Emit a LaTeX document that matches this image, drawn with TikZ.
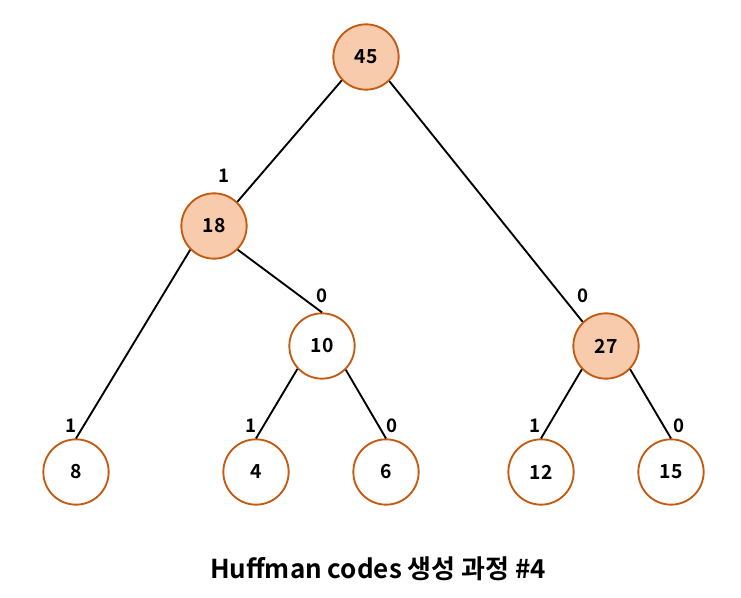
\documentclass[tikz,border=0pt]{standalone}
\usepackage{fontspec}
\setmainfont{Noto Sans CJK KR}[BoldFont={* Bold}]
\newfontfamily\krfont{Noto Sans CJK KR Bold}
\definecolor{nodefill}{HTML}{F8CBAD}
\definecolor{nodeline}{HTML}{C55A11}
\begin{document}
\begin{tikzpicture}[x=0.75pt,y=-0.75pt,
  tn/.style={circle,draw=nodeline,line width=1.4pt,fill=white,minimum size=49pt,inner sep=0pt,font=\krfont\fontsize{14.5}{16}\selectfont},
  hn/.style={tn,fill=nodefill},
  edge/.style={line width=1.4pt,black},
  bit/.style={font=\krfont\fontsize{14}{16}\selectfont,inner sep=0pt}]
\useasboundingbox (0,0) rectangle (741,598);
\node[hn] (n45) at (366,57) {45};
\node[hn] (n18) at (214,226) {18};
\node[tn] (n10) at (322,346) {10};
\node[hn] (n27) at (606,346) {27};
\node[tn] (n8) at (76,472) {8};
\node[tn] (n4) at (256,472) {4};
\node[tn] (n6) at (386,472) {6};
\node[tn] (n12) at (541,472) {12};
\node[tn] (n15) at (671,472) {15};
\draw[edge] (n45.-136) -- (n18.46);
\draw[edge] (n45.-46) -- (n27.134);
\draw[edge] (n18.-135) -- (n8.north);
\draw[edge] (n18.-45) -- (n10.north);
\draw[edge] (n10.-137) -- (n4.north);
\draw[edge] (n10.-45) -- (n6.north);
\draw[edge] (n27.-136) -- (n12.north);
\draw[edge] (n27.-44) -- (n15.north);
\node[bit] (b1) at (224,176) {1};
\node[bit] (b2) at (322,296) {0};
\node[bit] (b3) at (583,296) {0};
\node[bit] (b4) at (71,426) {1};
\node[bit] (b5) at (251,426) {1};
\node[bit] (b6) at (392,426) {0};
\node[bit] (b7) at (535,426) {1};
\node[bit] (b8) at (679,426) {0};
\node[font=\krfont\fontsize{19.5}{22}\selectfont,inner sep=0pt] (title) at (378,569) {Huffman codes 생성 과정 \#4};
\end{tikzpicture}
\end{document}
